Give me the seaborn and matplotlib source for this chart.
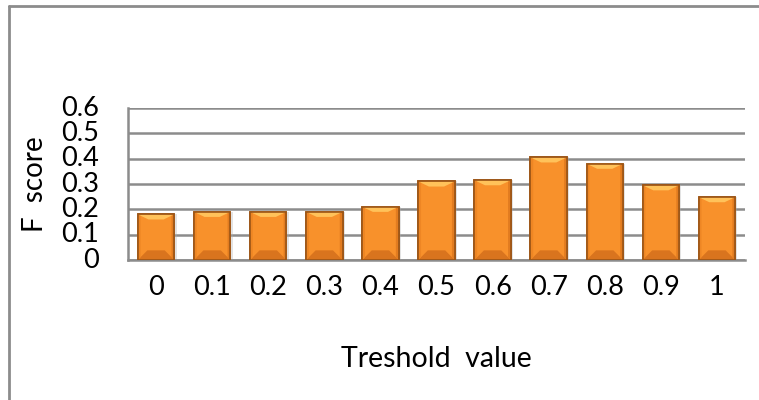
import matplotlib
matplotlib.use("Agg")
import matplotlib.pyplot as plt
from matplotlib.lines import Line2D
from matplotlib.patches import Polygon, Rectangle
import seaborn as sns
import pandas as pd

thresholds = ["0", "0.1", "0.2", "0.3", "0.4", "0.5", "0.6", "0.7", "0.8", "0.9", "1"]
f_scores = [0.18, 0.19, 0.19, 0.19, 0.21, 0.31, 0.315, 0.405, 0.38, 0.295, 0.248]
y_ticks = [0, 0.1, 0.2, 0.3, 0.4, 0.5, 0.6]
y_tick_labels = ["0", "0.1", "0.2", "0.3", "0.4", "0.5", "0.6"]

sns.set_theme(style="white")
plt.rcParams["font.family"] = ["Lato", "DejaVu Sans"]

df = pd.DataFrame({"threshold": thresholds, "score": f_scores})

fig = plt.figure(figsize=(7.59, 4.0), dpi=100)
ax = fig.add_axes([128 / 759, 140 / 400, (745 - 128) / 759, (260 - 108) / 400])

sns.barplot(data=df, x="threshold", y="score", ax=ax, color="#F8912B",
            width=0.65, edgecolor="#9C5516", linewidth=1.2, saturation=1, zorder=3)

ax.set_ylim(0, 0.6)
ax.set_xlim(-0.5, len(thresholds) - 0.5)

# bevel shading and soft shadow on each bar
bars = list(ax.patches)
for p in bars:
    x0, y0 = p.get_x(), p.get_y()
    w, h = p.get_width(), p.get_height()
    shadow = Rectangle((x0 + 0.04, y0), w, h, facecolor="#B0B0B0", alpha=0.35,
                       edgecolor="none", zorder=2.5)
    ax.add_patch(shadow)
    tx, ty = 0.19, 0.02
    top = Polygon([[x0, y0 + h], [x0 + w, y0 + h], [x0 + w - tx, y0 + h - ty],
                   [x0 + tx, y0 + h - ty]], closed=True, facecolor="#FFC25A",
                  edgecolor="none", zorder=4)
    bx, by = 0.17, 0.038
    bot = Polygon([[x0, y0], [x0 + w, y0], [x0 + w - bx, y0 + by],
                   [x0 + bx, y0 + by]], closed=True, facecolor="#D9741E",
                  edgecolor="none", zorder=4)
    sx = 0.05
    left = Polygon([[x0, y0], [x0, y0 + h], [x0 + sx, y0 + h - ty * 0.3],
                    [x0 + sx, y0 + by * 0.3]], closed=True, facecolor="#EE8624",
                   edgecolor="none", zorder=4)
    right = Polygon([[x0 + w, y0], [x0 + w, y0 + h], [x0 + w - sx, y0 + h - ty * 0.3],
                     [x0 + w - sx, y0 + by * 0.3]], closed=True, facecolor="#E27C20",
                    edgecolor="none", zorder=4)
    for poly in (top, bot, left, right):
        ax.add_patch(poly)
    outline = Rectangle((x0, y0), w, h, facecolor="none", edgecolor="#9C5516",
                        linewidth=1.2, zorder=5)
    ax.add_patch(outline)

ax.set_yticks(y_ticks)
ax.set_yticklabels(y_tick_labels)
ax.yaxis.grid(True, color="#8C8C8C", linewidth=1.8, zorder=0)
ax.set_axisbelow(True)

for s in ["top", "right"]:
    ax.spines[s].set_visible(False)
for s in ["left", "bottom"]:
    ax.spines[s].set_color("#8C8C8C")
    ax.spines[s].set_linewidth(1.8)

ax.tick_params(axis="y", labelsize=19.5, pad=21, length=0, colors="black")
ax.tick_params(axis="x", labelsize=19.5, pad=11, length=0, colors="black")
for lab in ax.get_yticklabels():
    lab.set_verticalalignment("center")

ax.set_xlabel("Treshold  value", fontsize=20.5, labelpad=33, color="black")
ax.set_ylabel("F  score", fontsize=20, labelpad=9, color="black")

# chart frame
fig.add_artist(Line2D([8.5 / 759, 8.5 / 759], [0, 1 - 5.5 / 400],
                      transform=fig.transFigure, color="#8C8C8C", linewidth=2))
fig.add_artist(Line2D([8.5 / 759, 1], [1 - 5.5 / 400, 1 - 5.5 / 400],
                      transform=fig.transFigure, color="#8C8C8C", linewidth=2))

fig.savefig("out.png", dpi=100)
